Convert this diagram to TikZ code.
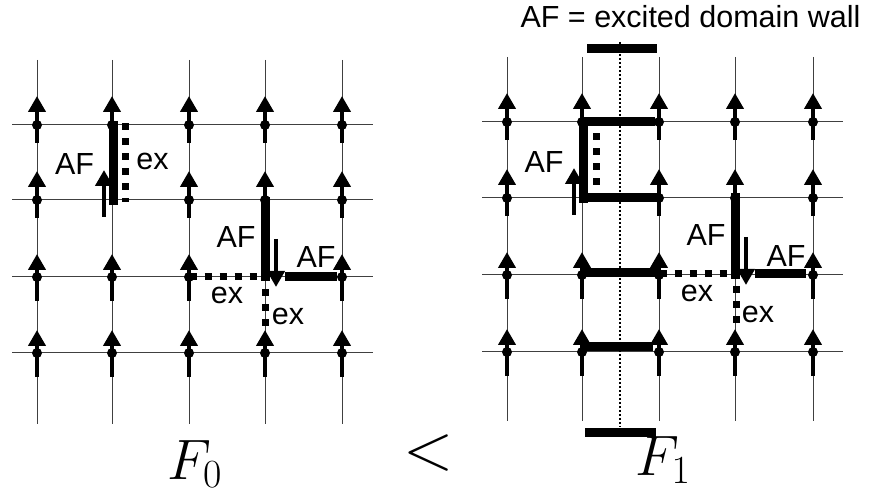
\documentclass[tikz,border=0pt]{standalone}
\usepackage{fix-cm}
\usepackage{fontspec}
\newfontfamily\labelfont{Liberation Sans}
\usetikzlibrary{arrows.meta}
\tikzset{
  gridline/.style={black!75,line width=1pt},
  spin/.style={line width=4.5pt,-{Triangle[length=16pt,width=17pt]}},
  afbond/.style={line width=9pt},
  exbond/.style={line width=7pt,dash pattern=on 7pt off 8pt},
  wall/.style={line width=1.5pt,dash pattern=on 2pt off 2pt},
  lab/.style={anchor=base,inner sep=0pt,font=\labelfont\fontsize{30.5}{30.5}\selectfont},
  bigmath/.style={anchor=base,inner sep=0pt,font=\fontsize{57}{60}\selectfont}
}
\begin{document}
\begin{tikzpicture}[x=1pt,y=-1pt]
  \useasboundingbox (0,0) rectangle (876,494);
  \draw[gridline] (37,60)--(37,424) (112,60)--(112,424) (189,60)--(189,424) (265,60)--(265,424) (342,60)--(342,424);
  \draw[gridline] (12,125)--(373,125) (12,200)--(373,200) (12,277)--(373,277) (12,353)--(373,353);
  \draw[gridline] (507,57)--(507,421) (582,57)--(582,421) (659,57)--(659,421) (735,57)--(735,421) (813,57)--(813,421);
  \draw[gridline] (482,122)--(843,122) (482,198)--(843,198) (482,275)--(843,275) (482,352)--(843,352);
  \foreach \x/\y in {37/125,112/125,189/125,265/125,342/125,37/200,189/200,265/200,342/200,
                     507/122,582/122,659/122,735/122,813/122,507/198,659/198,735/198,813/198}{
    \fill (\x,\y) circle (5);
    \draw[spin] (\x,\y+18)--(\x,\y-29);
  }
  \foreach \x/\y in {37/277,112/277,189/277,342/277,37/353,112/353,189/353,265/353,342/353,
                     507/275,582/275,659/275,813/275,507/352,582/352,659/352,735/352,813/352}{
    \fill (\x,\y) circle (5);
    \draw[spin] (\x,\y+24)--(\x,\y-23);
  }
  \draw[spin] (104,217)--(104,170);
  \draw[spin] (276,239)--(276,287);
  \draw[spin] (574,215)--(574,168);
  \draw[spin] (746,237)--(746,285);
  \draw[wall] (620,42)--(620,427);
  \draw[afbond] (113.5,121)--(113.5,205);
  \draw[afbond] (265,197)--(265,281);
  \draw[afbond] (285,277)--(337,277);
  \draw[exbond] (125.5,123.5)--(125.5,202.5);
  \draw[exbond] (189.5,277)--(257,277);
  \draw[exbond] (265.5,289.5)--(265.5,327);
  \draw[afbond] (587,49)--(657,49);
  \draw[afbond] (585,432)--(656,432);
  \draw[afbond] (583,118)--(583,203);
  \draw[afbond] (583,122)--(655,122);
  \draw[afbond] (583,198)--(659,198);
  \draw[afbond] (582,273)--(658,273);
  \draw[afbond] (583,347)--(653,347);
  \draw[afbond] (735,193)--(735,279);
  \draw[afbond] (755,274)--(806,274);
  \draw[exbond] (596,133.5)--(596,200.5);
  \draw[exbond] (659.5,274)--(727,274);
  \draw[exbond] (736,286.5)--(736,324);
  \node[lab] (title) at (690.5,28) {AF = excited domain wall};
  \node[lab] (afa) at (74.5,175) {AF};
  \node[lab] (exa) at (152.5,170) {ex};
  \node[lab] (afb) at (236,248) {AF};
  \node[lab] (afc) at (316,268) {AF};
  \node[lab] (exb) at (227,304) {ex};
  \node[lab] (exc) at (288,325) {ex};
  \node[lab] (afd) at (544,173) {AF};
  \node[lab] (afe) at (706,246) {AF};
  \node[lab] (aff) at (786,267) {AF};
  \node[lab] (exd) at (697,302) {ex};
  \node[lab] (exe) at (758,323) {ex};
  \node[bigmath] (fzero) at (194.5,479) {$F_0$};
  \node[bigmath] (less) at (429,469.5) {\fontsize{66}{70}\selectfont$<$};
  \node[bigmath] (fone) at (663,475) {$F_1$};
\end{tikzpicture}
\end{document}
